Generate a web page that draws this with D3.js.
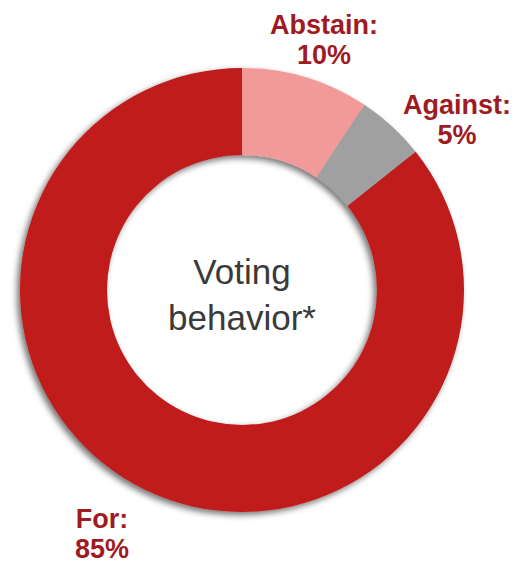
<!DOCTYPE html>
<html>
<head>
<meta charset="utf-8">
<script src="https://cdn.jsdelivr.net/npm/d3@7"></script>
<style>
html,body{margin:0;padding:0;background:#fff;}
svg{display:block;}
</style>
</head>
<body>
<svg id="chart" width="530" height="564"></svg>
<script>
const categories = ["Abstain", "Against", "For"];
const values = [9.3, 5.0, 85.7];
const labelText = ["10%", "5%", "85%"];
const colors = ["#F29A9A", "#A0A0A0", "#C01A1A"];
const centerTitle = ["Voting", "behavior*"];

const svg = d3.select("#chart");
const cx = 242, cy = 290, R = 222, r = 135;

const defs = svg.append("defs");
const f = defs.append("filter").attr("id", "shadow")
  .attr("x", "-20%").attr("y", "-20%").attr("width", "140%").attr("height", "140%");
f.append("feDropShadow").attr("dx", -3).attr("dy", 3).attr("stdDeviation", 3)
  .attr("flood-color", "#000").attr("flood-opacity", 0.55);

const pie = d3.pie().sort(null).value(d => d);
const arc = d3.arc().innerRadius(r).outerRadius(R);
const arcs = pie(values);

const g = svg.append("g").attr("transform", `translate(${cx},${cy})`);
g.append("g").attr("filter", "url(#shadow)")
  .selectAll("path").data(arcs).join("path")
  .attr("d", arc).attr("fill", (d, i) => colors[i]);

// labels
const labelPos = [[324, 34], [457, 114], [102, 528]];
const lg = svg.append("g");
categories.forEach((c, i) => {
  lg.append("text")
    .attr("x", labelPos[i][0]).attr("y", labelPos[i][1])
    .attr("text-anchor", "middle")
    .attr("font-family", "Liberation Sans, Arial, sans-serif")
    .attr("font-weight", "bold").attr("font-size", 27)
    .attr("fill", "#9E1B1F")
    .text(c + ":");
  lg.append("text")
    .attr("x", labelPos[i][0]).attr("y", labelPos[i][1] + 30)
    .attr("text-anchor", "middle")
    .attr("font-family", "Liberation Sans, Arial, sans-serif")
    .attr("font-weight", "bold").attr("font-size", 27)
    .attr("fill", "#9E1B1F")
    .text(labelText[i]);
});

const ct = svg.append("text")
  .attr("x", cx).attr("y", 284)
  .attr("text-anchor", "middle")
  .attr("font-family", "Liberation Sans, Arial, sans-serif")
  .attr("font-size", 35).attr("fill", "#3A3A3A");
centerTitle.forEach((s, i) => {
  ct.append("tspan").attr("x", cx).attr("dy", i === 0 ? 0 : 46).text(s);
});
</script>
</body>
</html>
